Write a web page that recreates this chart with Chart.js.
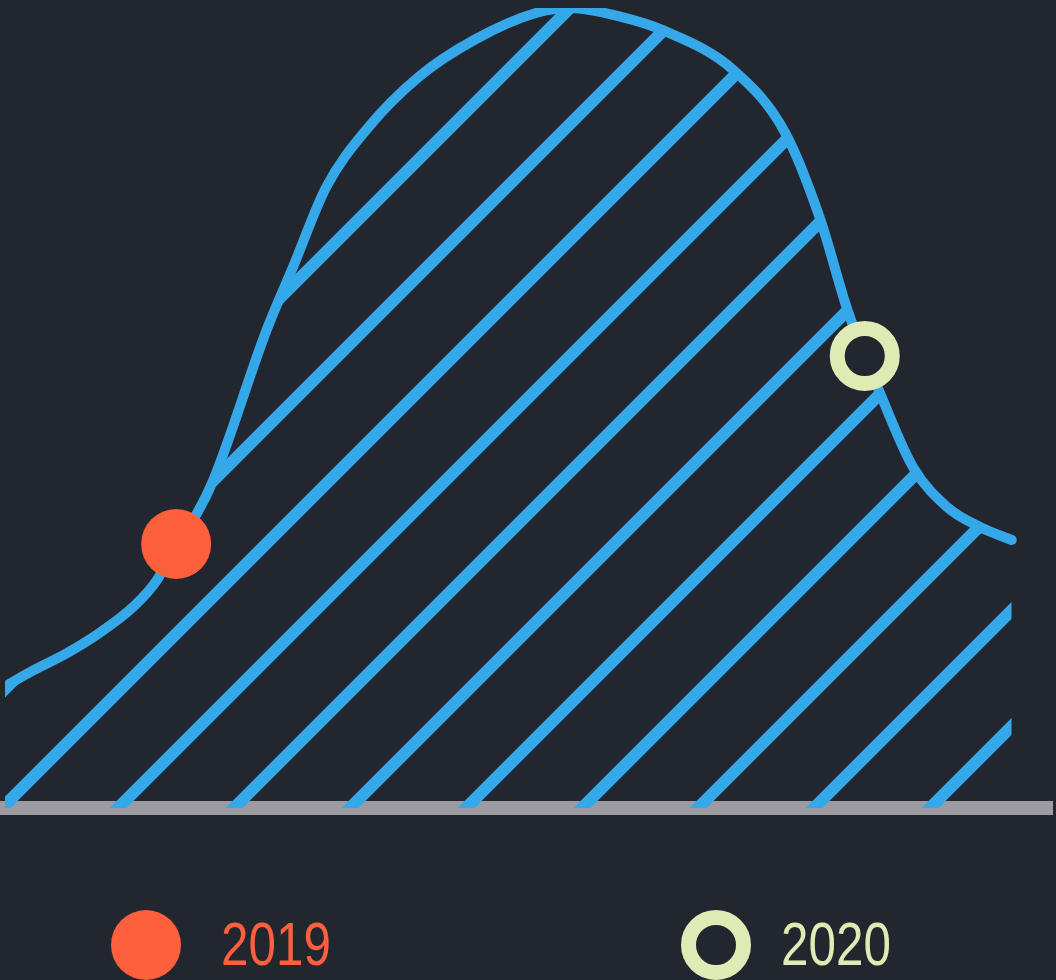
<!DOCTYPE html>
<html>
<head>
<meta charset="utf-8">
<script src="https://cdn.jsdelivr.net/npm/chart.js@4.4.1/dist/chart.umd.min.js"></script>
<style>
  html,body{margin:0;padding:0;background:#22262f;}
  #wrap{position:relative;width:1056px;height:980px;overflow:hidden;background:#22262f;}
  #chartBox{position:absolute;left:0;top:0;width:1056px;height:830px;}
  .mark{position:absolute;box-sizing:border-box;border-radius:50%;}
  .lbl{position:absolute;font-family:"Liberation Sans Narrow","Liberation Sans",sans-serif;font-size:61px;line-height:1;white-space:nowrap;transform:scaleX(0.81);transform-origin:0 0;}
</style>
</head>
<body>
<div id="wrap">
  <div id="chartBox"><canvas id="c" width="1056" height="830"></canvas></div>
  <div id="legend"></div>
</div>
<script>
// ── Data ──
const curveX=[0,2.8,6.2,9.4,12.7,15.1,17.0,19.1,20.7,26.0,28.6,31.9,36.1,41.1,46.6,52.8,56.1,61.2,65.4,72.4,77.5,80.9,83.7,85.4,86.9,90.2,93.6,96.9,100];
const curveY=[15.2,17.2,19.4,21.9,25.1,28.5,33.0,36.9,41.0,59.8,67.6,77.6,85.1,91.4,96.0,99.4,100,98.9,97.2,92.2,84.4,73.9,62.2,56.5,51.9,42.6,37.6,35.1,33.5];
const markYears=['2019','2020'];
const markX=[17.0,85.4];
const markY=[33.0,56.5];

// ── Colours ──
const BG='#22262f';
const BLUE='#35a8ea';
const GREY='#9b9ba1';
const ORANGE='#fe5f3c';
const LIME='#dfeab4';

// ── Diagonal hatch pattern for the area fill ──
function makeHatch(){
  const step=116, off=114;
  const t=document.createElement('canvas');
  t.width=step;t.height=step;
  const g=t.getContext('2d');
  g.strokeStyle=BLUE;g.lineWidth=12;
  [off-step,off,off+step].forEach(c=>{
    g.beginPath();g.moveTo(-30,c+30);g.lineTo(c+30,-30);g.stroke();
  });
  return g.createPattern(t,'repeat');
}

const ctx=document.getElementById('c').getContext('2d');
const hatch=makeHatch();

new Chart(ctx,{
  type:'line',
  data:{
    datasets:[
      {label:markYears[0],data:[{x:markX[0],y:markY[0]}],showLine:false,order:0,
        pointRadius:35,pointHoverRadius:35,pointBackgroundColor:ORANGE,pointBorderWidth:0,pointBorderColor:ORANGE},
      {label:markYears[1],data:[{x:markX[1],y:markY[1]}],showLine:false,order:0,
        pointRadius:27.5,pointHoverRadius:27.5,pointBackgroundColor:BG,pointBorderColor:LIME,pointBorderWidth:15},
      {label:'curve',data:curveX.map((x,i)=>({x,y:curveY[i]})),order:1,
        borderColor:BLUE,borderWidth:10,borderCapStyle:'round',borderJoinStyle:'round',
        backgroundColor:hatch,fill:'origin',pointRadius:0,cubicInterpolationMode:'monotone'}
    ]
  },
  options:{
    responsive:false,animation:false,devicePixelRatio:1,
    layout:{autoPadding:false,padding:{left:5,right:4,top:8,bottom:22}},
    plugins:{legend:{display:false},tooltip:{enabled:false}},
    events:[],
    scales:{
      x:{type:'linear',min:0,max:104,z:1,
        ticks:{display:false},grid:{display:false,drawTicks:false},
        border:{display:true,color:GREY,width:14},
        afterFit:s=>{s.height=0;s.paddingLeft=0;s.paddingRight=0}},
      y:{display:false,min:0,max:100}
    }
  }
});

// ── Legend ──
const legend=document.getElementById('legend');
const legItems=[
  {text:markYears[0],color:ORANGE,cx:146,tx:221,ring:false},
  {text:markYears[1],color:LIME,cx:716,tx:781,ring:true}
];
legItems.forEach(it=>{
  const m=document.createElement('div');
  m.className='mark';
  m.style.left=(it.cx-35)+'px';m.style.top=(945-35)+'px';
  m.style.width='70px';m.style.height='70px';
  if(it.ring){m.style.border='15px solid '+it.color;m.style.background=BG}
  else m.style.background=it.color;
  legend.appendChild(m);
  const t=document.createElement('div');
  t.className='lbl';
  t.textContent=it.text;
  t.style.color=it.color;
  t.style.left=it.tx+'px';t.style.top='914px';
  legend.appendChild(t);
});
</script>
</body>
</html>
